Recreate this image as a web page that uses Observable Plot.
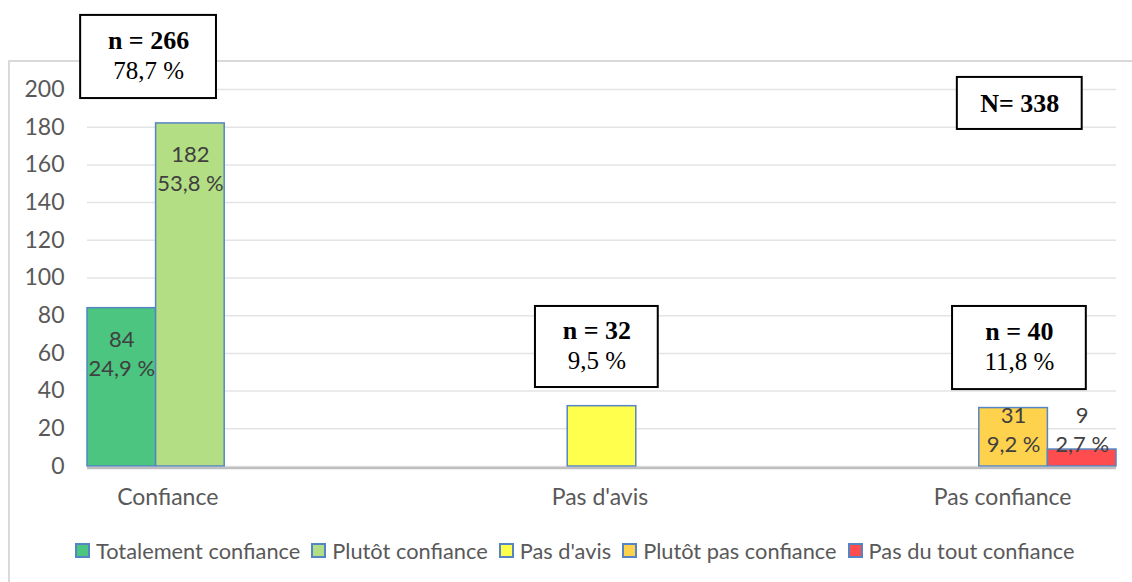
<!DOCTYPE html>
<html>
<head>
<meta charset="utf-8">
<script src="https://cdn.jsdelivr.net/npm/d3@7"></script>
<script src="https://cdn.jsdelivr.net/npm/@observablehq/plot@0.6"></script>
<style>
  html, body { margin: 0; padding: 0; background: #fff; }
  #wrap { position: relative; width: 1132px; height: 582px; overflow: hidden; }
  #frame { position: absolute; left: 8px; top: 60px; width: 1140px; height: 600px;
           border-left: 2px solid #d9d9d9; border-top: 2px solid #d9d9d9; }
  #chart { position: absolute; left: 0; top: 0; }
  #legend { position: absolute; left: 75px; top: 537px; display: flex; align-items: center;
            font-family: Lato, sans-serif; font-size: 21.8px; color: #595959; white-space: nowrap; }
  .item { display: flex; align-items: center; margin-right: 11px; }
  .sw { width: 11px; height: 11px; border: 2px solid #5585c4; margin-right: 6px; }
</style>
</head>
<body>
<div id="wrap">
  <div id="frame"></div>
  <div id="chart"></div>
  <div id="legend"></div>
</div>
<script>
// ---- data ----
const categories = ["Confiance", "Pas d'avis", "Pas confiance"];
const series = ["Totalement confiance", "Plutôt confiance", "Pas d'avis", "Plutôt pas confiance", "Pas du tout confiance"];
const seriesCategory = ["Confiance", "Confiance", "Pas d'avis", "Pas confiance", "Pas confiance"];
const counts = [84, 182, 32, 31, 9];
const percentLabels = ["24,9 %", "53,8 %", "9,5 %", "9,2 %", "2,7 %"];
const showBarLabel = [true, true, false, true, true];
const groupCounts = [266, 32, 40];
const groupPercents = ["78,7 %", "9,5 %", "11,8 %"];
const totalN = 338;
const yTicks = [0, 20, 40, 60, 80, 100, 120, 140, 160, 180, 200];
const colors = ["#4bc57f", "#b3de84", "#ffff4d", "#ffd24d", "#ff4d4f"];

// ---- derived table ----
const nS = series.length;
const bars = series.map((s, i) => {
  const c = categories.indexOf(seriesCategory[i]);
  const slot = c * nS + i;
  return {series: s, category: seriesCategory[i], value: counts[i], pct: percentLabels[i],
          show: showBarLabel[i], x1: slot, x2: slot + 1, color: colors[i]};
});
const groupMax = {};
bars.forEach(b => groupMax[b.category] = Math.max(groupMax[b.category] || 0, b.value));

// category label anchors: centre of the non-empty bars of each category, nudged
const labelNudge = {"Confiance": 0.17, "Pas d'avis": -0.03, "Pas confiance": -0.66};
const catLabels = categories.map(c => {
  const bs = bars.filter(b => b.category === c && b.value > 0);
  const cx = (d3.min(bs, b => b.x1) + d3.max(bs, b => b.x2)) / 2;
  return {label: c, x: cx + labelNudge[c]};
});

// annotation boxes (layout, in scale units)
const boxes = [
  {x1: -0.10, x2: 1.88, y1: 195.2, y2: 239.3, l1: `n = ${groupCounts[0]}`, l2: groupPercents[0]},
  {x1: 6.53, x2: 8.32, y1: 41.9, y2: 84.9, l1: `n = ${groupCounts[1]}`, l2: groupPercents[1]},
  {x1: 12.61, x2: 14.56, y1: 40.8, y2: 84.9, l1: `n = ${groupCounts[2]}`, l2: groupPercents[2]}
];
const totalBox = [{x1: 12.68, x2: 14.50, y1: 178.8, y2: 206.4, l1: `N= ${totalN}`}];

const serif = "'Liberation Serif', 'Times New Roman', serif";
const sans = "Lato, sans-serif";

const chart = Plot.plot({
  width: 1132,
  height: 525,
  marginLeft: 87,
  marginRight: 16,
  marginTop: 89,
  marginBottom: 59,
  style: {fontFamily: sans, color: "#595959", background: "transparent", overflow: "visible"},
  x: {domain: [0, 15], axis: null},
  y: {domain: [0, 200], axis: null},
  marks: [
    Plot.gridY(yTicks, {stroke: "#e4e4e4", strokeOpacity: 1, strokeWidth: 1.5}),
    Plot.axisY(yTicks, {tickSize: 0, tickPadding: 23, fontSize: 23, fill: "#595959", fontFamily: sans}),
    Plot.rect(bars, {x1: "x1", x2: "x2", y1: 0, y2: "value", fill: "color", stroke: "#5585c4", strokeWidth: 1.5}),
    Plot.ruleY([0], {stroke: "#bfbfbf", strokeWidth: 2.5, dy: 1.5}),
    Plot.text(bars.filter(b => b.show && b.value >= 50), {
      x: d => (d.x1 + d.x2) / 2, y: "value", text: d => `${d.value}\n${d.pct}`,
      dy: 44, lineHeight: 1.3, fontSize: 22, fill: "#404040", fontFamily: sans
    }),
    Plot.text(bars.filter(b => b.show && b.value < 50), {
      x: d => (d.x1 + d.x2) / 2, y: d => groupMax[d.category], text: d => `${d.value}\n${d.pct}`,
      dy: 20, lineHeight: 1.3, fontSize: 22, fill: "#404040", fontFamily: sans
    }),
    Plot.text(catLabels, {x: "x", y: 0, text: "label", dy: 31, fontSize: 23, fill: "#595959", fontFamily: sans}),
    Plot.rect(boxes, {x1: "x1", x2: "x2", y1: "y1", y2: "y2", fill: "white", stroke: "black", strokeWidth: 2}),
    Plot.text(boxes, {x: d => (d.x1 + d.x2) / 2, y: d => (d.y1 + d.y2) / 2, text: "l1", dy: -16, fontSize: 26,
                      fontWeight: "bold", fill: "black", fontFamily: serif}),
    Plot.text(boxes, {x: d => (d.x1 + d.x2) / 2, y: d => (d.y1 + d.y2) / 2, text: "l2", dy: 14, fontSize: 25,
                      fill: "black", fontFamily: serif}),
    Plot.rect(totalBox, {x1: "x1", x2: "x2", y1: "y1", y2: "y2", fill: "white", stroke: "black", strokeWidth: 2}),
    Plot.text(totalBox, {x: d => (d.x1 + d.x2) / 2, y: d => (d.y1 + d.y2) / 2, text: "l1", dy: 0, fontSize: 26,
                         fontWeight: "bold", fill: "black", fontFamily: serif})
  ]
});
document.getElementById("chart").appendChild(chart);

const legend = document.getElementById("legend");
series.forEach((s, i) => {
  const it = document.createElement("div");
  it.className = "item";
  const sw = document.createElement("div");
  sw.className = "sw";
  sw.style.background = colors[i];
  const t = document.createElement("span");
  t.textContent = s;
  it.appendChild(sw); it.appendChild(t);
  legend.appendChild(it);
});
</script>
</body>
</html>
